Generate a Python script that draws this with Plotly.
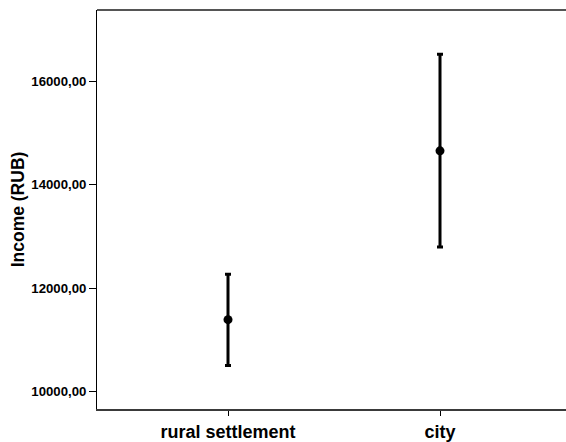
import plotly.graph_objects as go

categories = ["rural settlement", "city"]
means = [11388, 14651]
upper = [12265, 16517]
lower = [10503, 12793]
y_ticks = [10000, 12000, 14000, 16000]
y_tick_labels = ["10000,00", "12000,00", "14000,00", "16000,00"]

x_pos = list(range(len(categories)))
err_plus = [u - m for u, m in zip(upper, means)]
err_minus = [m - l for m, l in zip(means, lower)]

fig = go.Figure()
fig.add_trace(go.Scatter(
    x=x_pos, y=means, mode="markers",
    marker=dict(color="black", size=9),
    error_y=dict(type="data", symmetric=False, array=err_plus, arrayminus=err_minus,
                 color="black", thickness=3, width=3),
    showlegend=False,
))

font_family = "Arial, 'Liberation Sans', sans-serif"
fig.update_layout(
    width=566, height=442,
    margin=dict(l=97, r=0, t=10, b=33),
    paper_bgcolor="white", plot_bgcolor="white",
    font=dict(family=font_family, color="black"),
    xaxis=dict(
        range=[-0.6179, 1.5943],
        tickmode="array", tickvals=x_pos,
        ticktext=["<b>%s</b>" % c for c in categories],
        tickfont=dict(size=18, family=font_family, color="black"),
        ticks="outside", ticklen=5, tickcolor="black", tickwidth=1,
        showline=True, linecolor="#3a3a3a", linewidth=2, mirror=False,
        showgrid=False, zeroline=False,
    ),
    yaxis=dict(
        range=[9661, 17374],
        tickmode="array", tickvals=y_ticks,
        ticktext=["<b>%s</b>" % t for t in y_tick_labels],
        tickfont=dict(size=13.2, family=font_family, color="black"),
        ticks="outside", ticklen=7, tickcolor="black", tickwidth=1,
        showline=True, linecolor="black", linewidth=1, mirror=False,
        showgrid=False, zeroline=False,
        title=dict(text="<b>Income (RUB)</b>", font=dict(size=17.5, family=font_family, color="black"), standoff=2),
    ),
    shapes=[dict(type="line", xref="paper", yref="paper", x0=0, x1=1.0, y0=1, y1=1,
                 line=dict(color="#555555", width=2))],
)

fig.write_html("out.html")
